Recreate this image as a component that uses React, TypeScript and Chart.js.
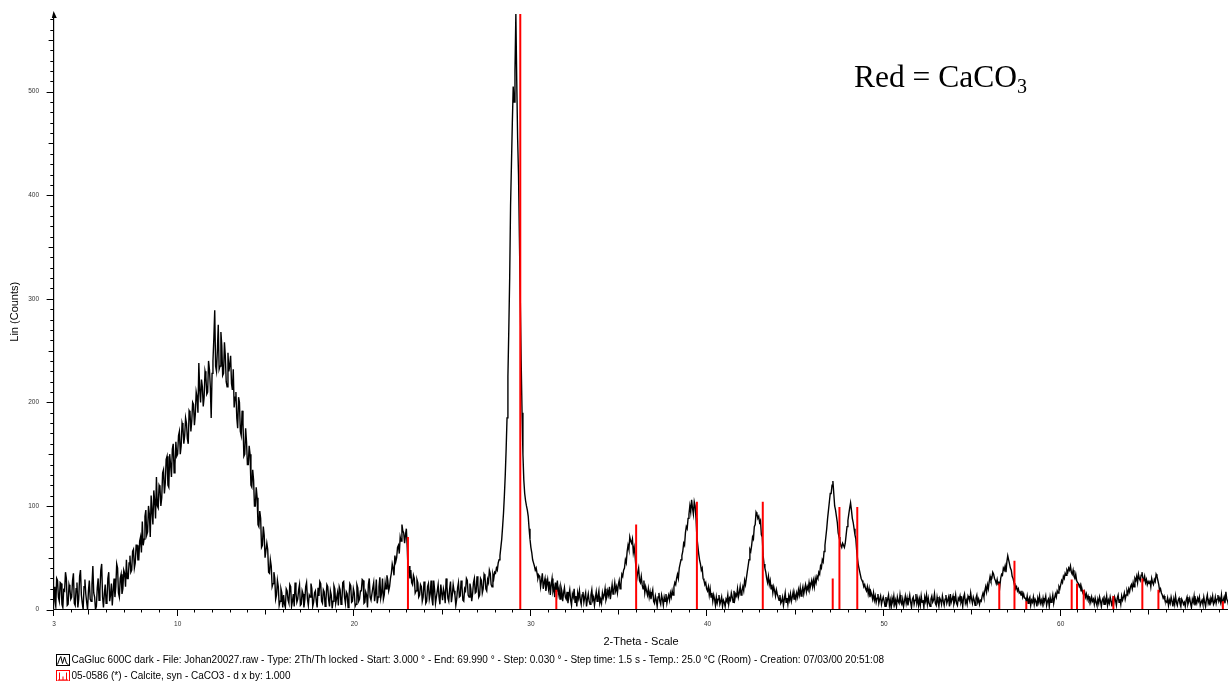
import React, { useEffect, useRef } from 'react';
import { Chart, registerables } from 'chart.js';

Chart.register(...registerables);

// ---------- Scan data (Lin counts), regular 2-theta grid per segment ----------
const STEP = 0.05;

// 3.00 .. 15.95
const countsA: number[] = [
  22, 8, 3, 30, 28, 12, 8, 26, 25, 5, 2, 19, 18, 36, 30, 4, 5, 24, 20, 10,
  12, 28, 35, 6, 4, 20, 26, 2, 10, 32, 38, 14, 6, 0, 22, 29, 15, 7, 0, 18,
  28, 10, 8, 24, 42, 16, 12, 0, 3, 21, 30, 9, 18, 38, 44, 12, 2, 15, 24, 6,
  10, 30, 36, 8, 14, 25, 4, 18, 30, 12, 22, 44, 40, 16, 12, 30, 34, 15, 20, 38,
  35, 22, 48, 30, 30, 45, 52, 36, 38, 56, 58, 40, 45, 62, 62, 48, 48, 66, 70, 55,
  85, 62, 68, 90, 96, 72, 75, 100, 92, 70, 110, 95, 82, 115, 105, 88, 128, 100, 98, 120,
  118, 100, 108, 132, 135, 112, 122, 145, 148, 120, 118, 150, 140, 128, 155, 160, 132, 140, 162, 148,
  150, 168, 172, 150, 158, 180, 176, 160, 168, 185, 180, 165, 160, 192, 190, 172, 182, 200, 198, 178,
  188, 210, 205, 190, 238, 212, 200, 222, 215, 196, 205, 230, 225, 208, 210, 240, 232, 215, 185, 228,
  240, 262, 289, 235, 230, 250, 275, 232, 235, 268, 255, 226, 228, 258, 245, 220, 215, 248, 230, 236,
  245, 218, 212, 232, 195, 205, 210, 185, 175, 205, 200, 172, 168, 192, 180, 148, 150, 175, 162, 140,
  140, 158, 150, 120, 118, 135, 125, 100, 100, 118, 108, 82, 80, 95, 88, 60, 62, 80, 72, 50,
  50, 64, 58, 36, 35, 48, 42, 22, 25, 36, 30, 10, 14, 28, 22, 4, 8, 20, 16, 2,
];

// 16.00 .. 27.95
const countsB: number[] = [
  14, 5, 2, 20, 18, 9, 6, 24, 22, 3, 8, 15, 3, 26, 16, 7, 10, 19, 24, 4,
  5, 18, 15, 2, 9, 22, 26, 10, 4, 14, 12, 25, 20, 3, 7, 16, 18, 8, 2, 21,
  13, 27, 25, 8, 6, 19, 17, 3, 10, 24, 22, 9, 3, 18, 14, 1, 8, 23, 20, 6,
  11, 16, 4, 22, 19, 5, 9, 26, 27, 12, 6, 17, 15, 2, 12, 25, 23, 7, 8, 20,
  16, 3, 5, 24, 21, 8, 10, 18, 18, 29, 28, 6, 7, 17, 14, 2, 24, 30, 12, 9,
  9, 21, 26, 8, 15, 29, 6, 12, 22, 31, 11, 16, 30, 10, 14, 26, 20, 33, 28, 18,
  22, 30, 35, 44, 40, 33, 52, 46, 50, 60, 62, 54, 70, 66, 82, 76, 74, 64, 72, 78,
  60, 35, 42, 30, 38, 26, 24, 33, 30, 16, 18, 29, 26, 12, 14, 24, 22, 8, 12, 27,
  20, 6, 8, 22, 25, 10, 15, 28, 10, 4, 28, 19, 6, 12, 18, 24, 12, 5, 24, 16,
  9, 20, 16, 6, 30, 22, 11, 8, 20, 27, 7, 14, 24, 18, 14, 4, 10, 21, 26, 12,
  13, 28, 22, 9, 8, 20, 18, 30, 28, 14, 12, 25, 20, 8, 15, 26, 30, 16, 17, 32,
  24, 12, 14, 30, 28, 16, 20, 34, 32, 20, 18, 29, 26, 38, 35, 24, 22, 34, 30, 36,
];

// 28.00 .. 30.45 (main calcite reflection)
const countsC: number[] = [
  35, 40, 38, 45, 48, 52, 60, 68, 80, 93,
  110, 130, 155, 185, 225, 270, 320, 390, 430, 470,
  505, 490, 520, 575, 510, 455, 420, 360, 300, 240,
  190, 150, 125, 112, 105, 100, 96, 90, 78, 68,
  60, 55, 48, 45, 42, 38, 40, 35, 30, 33,
];

// 30.50 .. 49.95
const countsD: number[] = [
  32, 22, 28, 35, 20, 26, 30, 18, 24, 29,
  20, 27, 14, 24, 30, 18, 22, 12, 26, 17, 28, 15, 20, 10, 22, 18, 8, 16, 21, 12,
  10, 17, 6, 14, 19, 9, 4, 15, 12, 20, 7, 13, 3, 16, 11, 18, 9, 5, 14, 17,
  7, 12, 16, 3, 10, 15, 8, 5, 14, 19, 9, 12, 4, 11, 17, 8, 13, 18, 6, 10,
  6, 16, 11, 14, 20, 9, 12, 18, 14, 22, 10, 17, 24, 15, 19, 26, 18, 22, 16, 24,
  28, 20, 24, 34, 32, 38, 40, 48, 45, 56, 62, 58, 70, 66, 64, 68, 55, 60, 52, 40,
  30, 36, 40, 28, 26, 32, 24, 20, 28, 16, 22, 18, 14, 20, 12, 17, 10, 15, 19, 8,
  6, 13, 9, 3, 12, 16, 8, 5, 14, 10, 4, 12, 8, 15, 6, 11, 14, 9, 16, 12,
  18, 14, 22, 26, 24, 30, 34, 30, 40, 44, 48, 52, 56, 64, 62, 74, 80, 78, 88, 92,
  100, 94, 106, 98, 92, 104, 100, 88, 70, 62, 54, 48, 44, 38, 40, 30, 28, 24, 26, 20,
  18, 22, 14, 20, 12, 16, 8, 14, 10, 4, 12, 6, 10, 14, 5, 8, 12, 3, 9, 7,
  3, 10, 8, 14, 5, 11, 9, 16, 12, 7, 18, 10, 15, 13, 20, 12, 16, 22, 14, 18,
  22, 18, 28, 24, 30, 36, 42, 48, 58, 56, 62, 70, 68, 80, 82, 94, 92, 88, 90, 84,
  86, 72, 70, 52, 44, 40, 36, 30, 26, 32, 24, 28, 20, 24, 16, 22, 18, 13, 19, 15,
  12, 9, 14, 6, 8, 12, 4, 10, 16, 7, 11, 5, 13, 9, 15, 8, 12, 17, 10, 14,
  10, 16, 12, 19, 14, 21, 13, 18, 22, 15, 20, 24, 17, 22, 19, 26, 20, 24, 28, 22,
  28, 22, 30, 26, 32, 30, 36, 34, 42, 40, 48, 46, 56, 62, 70, 78, 88, 96, 104, 112,
  112, 120, 124, 112, 100, 96, 90, 84, 74, 70, 66, 62, 60, 64, 62, 60, 64, 72, 80, 86,
  92, 98, 103, 96, 88, 84, 78, 72, 68, 56, 48, 42, 38, 34, 30, 28, 26, 22, 24, 20,
  18, 22, 15, 20, 12, 17, 14, 10, 16, 9, 13, 7, 11, 15, 6, 10, 13, 5, 9, 12,
];

// 50.00 .. 69.95
const countsE: number[] = [
  8, 3, 12, 6, 10, 14, 4, 9, 2, 11, 7, 13, 5, 9, 3, 12, 8, 6, 14, 7,
  5, 10, 3, 8, 13, 6, 11, 4, 9, 14, 7, 2, 10, 12, 5, 9, 15, 6, 11, 4,
  10, 4, 13, 7, 9, 2, 12, 8, 14, 5, 11, 6, 3, 10, 13, 7, 9, 15, 6, 4,
  12, 7, 3, 11, 9, 5, 13, 8, 4, 10, 14, 6, 9, 12, 3, 15, 7, 10, 13, 5,
  8, 14, 6, 4, 11, 9, 13, 7, 10, 3, 12, 15, 6, 9, 5, 13, 11, 8, 16, 10,
  6, 12, 9, 4, 11, 14, 7, 10, 5, 9, 8, 13, 16, 12, 18, 22, 17, 24, 20, 27,
  32, 28, 30, 36, 34, 30, 28, 25, 29, 24, 27, 22, 30, 34, 33, 40, 38, 42, 36, 46,
  52, 48, 44, 40, 38, 32, 30, 26, 25, 20, 22, 18, 20, 16, 17, 14, 18, 12, 15, 11,
  11, 8, 13, 6, 10, 12, 4, 9, 7, 12, 5, 10, 8, 3, 11, 7, 13, 6, 9, 5,
  11, 6, 9, 13, 4, 8, 10, 3, 12, 7, 9, 14, 6, 11, 15, 12, 18, 16, 22, 20,
  24, 28, 26, 32, 30, 35, 33, 38, 36, 40, 38, 42, 36, 34, 38, 32, 30, 34, 28, 26,
  25, 22, 24, 18, 20, 16, 14, 17, 12, 15, 10, 13, 9, 11, 7, 12, 8, 10, 5, 11,
  7, 4, 10, 6, 12, 8, 3, 9, 11, 5, 10, 7, 13, 4, 9, 6, 12, 8, 3, 10,
  6, 12, 9, 4, 11, 14, 7, 10, 5, 13, 9, 12, 16, 10, 14, 18, 15, 20, 17, 22,
  24, 20, 26, 22, 30, 28, 32, 26, 34, 30, 28, 33, 36, 30, 28, 32, 26, 29, 24, 27,
  25, 28, 22, 30, 26, 24, 29, 27, 34, 32, 28, 24, 18, 20, 16, 14, 11, 13, 9, 8,
  7, 11, 4, 9, 6, 12, 8, 3, 10, 5, 13, 7, 4, 9, 11, 6, 3, 10, 8, 5,
  7, 3, 9, 12, 5, 8, 11, 6, 2, 10, 7, 13, 4, 9, 6, 11, 8, 12, 4, 7,
  9, 5, 12, 7, 3, 10, 14, 6, 9, 4, 11, 8, 13, 5, 7, 12, 6, 10, 14, 8,
  11, 7, 14, 5, 9, 12, 6, 17, 10, 8, 4, 11, 17, 9, 13, 7, 10, 16, 6, 12,
];

const segStarts: number[] = [3.0, 16.0, 28.0, 30.5, 50.0];

// ---------- Reference pattern 05-0586 Calcite (stick positions / heights) ----------
const calciteAngles: number[] = [
  23.04, 29.40, 31.44, 35.96, 39.40, 43.13, 47.09, 47.47, 48.48,
  56.52, 57.38, 58.05, 60.62, 60.92, 61.30, 62.98, 64.62, 65.53, 69.18,
];
const calciteCounts: number[] = [
  70, 575, 19, 82, 104, 104, 30, 99, 99,
  25, 47, 8, 29, 25, 19, 13, 30, 19, 8,
];

// ---------- Axis ticks / texts ----------
const xTickLabels: number[] = [3, 10, 20, 30, 40, 50, 60];
const yTickLabels: number[] = [0, 100, 200, 300, 400, 500];
const X_MIN = 3;
const X_MAX = 69.47;
const Y_MAX = 575;

const xTitle = '2-Theta - Scale';
const yTitle = 'Lin (Counts)';
const legendScan =
  'CaGluc 600C dark - File: Johan20027.raw - Type: 2Th/Th locked - Start: 3.000 ° - End: 69.990 ° - Step: 0.030 ° - Step time: 1.5 s - Temp.: 25.0 °C (Room) - Creation: 07/03/00 20:51:08';
const legendRef = '05-0586 (*) - Calcite, syn - CaCO3 - d x by: 1.000';
const noteMain = 'Red = CaCO';
const noteSub = '3';

const SANS = 'Arial, "Liberation Sans", sans-serif';
const SERIF = '"Liberation Serif", "Times New Roman", serif';

function segment(start: number, step: number, values: number[]) {
  return values.map((y, i) => ({ x: Math.round((start + i * step) * 1000) / 1000, y }));
}

const decorPlugin = {
  id: 'xrdDecor',
  afterDraw(chart: any) {
    const { ctx, chartArea, scales } = chart;
    const xs = scales.x;
    const ys = scales.y;
    const left = chartArea.left - 0.4;
    const bottom = chartArea.bottom;
    ctx.save();
    ctx.strokeStyle = '#000';
    ctx.fillStyle = '#000';
    ctx.lineWidth = 1.2;
    // axis lines
    ctx.beginPath();
    ctx.moveTo(left, bottom);
    ctx.lineTo(left, chartArea.top - 1);
    ctx.moveTo(left, bottom);
    ctx.lineTo(chartArea.right + 2, bottom);
    ctx.stroke();
    // arrow head on y axis
    ctx.beginPath();
    ctx.moveTo(left, chartArea.top - 3);
    ctx.lineTo(left - 1.8, chartArea.top + 4);
    ctx.lineTo(left + 3.2, chartArea.top + 4);
    ctx.closePath();
    ctx.fill();
    // y ticks every 10
    ctx.lineWidth = 1;
    ctx.beginPath();
    for (let v = 0; v <= Y_MAX - 5; v += 10) {
      const py = Math.round(ys.getPixelForValue(v)) + 0.5;
      const len = v % 100 === 0 ? 7 : v % 50 === 0 ? 5 : 3.3;
      ctx.moveTo(left - len, py);
      ctx.lineTo(left, py);
    }
    // x ticks every 1
    for (let v = X_MIN; v <= Math.floor(X_MAX); v += 1) {
      const px = Math.round(xs.getPixelForValue(v)) - 0.5;
      const len = v % 10 === 0 || v === X_MIN ? 6.5 : v % 5 === 0 ? 5 : 3;
      ctx.moveTo(px, bottom);
      ctx.lineTo(px, bottom + len);
    }
    ctx.stroke();

    // legend
    ctx.lineWidth = 1;
    ctx.strokeStyle = '#000';
    ctx.strokeRect(56.5, 654.5, 13, 11);
    ctx.beginPath();
    ctx.moveTo(57.5, 664.5);
    ctx.lineTo(59.5, 659);
    ctx.lineTo(60.8, 656.5);
    ctx.lineTo(62.5, 663.5);
    ctx.lineTo(64.5, 657);
    ctx.lineTo(66.5, 663.5);
    ctx.lineTo(68.5, 664.5);
    ctx.stroke();
    ctx.strokeStyle = '#ff0000';
    ctx.strokeRect(56.5, 670.5, 13, 10.5);
    ctx.beginPath();
    ctx.moveTo(59.5, 672.5); ctx.lineTo(59.5, 680);
    ctx.moveTo(63, 676.5); ctx.lineTo(63, 680);
    ctx.moveTo(66.5, 672.5); ctx.lineTo(66.5, 680);
    ctx.moveTo(58, 680); ctx.lineTo(68, 680);
    ctx.stroke();

    ctx.fillStyle = '#000';
    ctx.font = `10px ${SANS}`;
    ctx.textBaseline = 'middle';
    ctx.textAlign = 'left';
    ctx.fillText(legendScan, 71.5, 660.5);
    ctx.fillText(legendRef, 71.5, 676.5);

    // annotation
    ctx.textBaseline = 'alphabetic';
    ctx.font = `31.5px ${SERIF}`;
    ctx.fillText(noteMain, 854, 86.5);
    const w = ctx.measureText(noteMain).width;
    ctx.font = `20px ${SERIF}`;
    ctx.fillText(noteSub, 854 + w, 92.5);
    ctx.restore();
  },
};

export default function App() {
  const ref = useRef<HTMLCanvasElement>(null);

  useEffect(() => {
    const canvas = ref.current;
    if (!canvas) return;
    const segs = [countsA, countsB, countsC, countsD, countsE];
    const scan: { x: number; y: number }[] = [];
    segs.forEach((s, i) => scan.push(...segment(segStarts[i], STEP, s)));

    const sticks: { x: number; y: number | null }[] = [];
    calciteAngles.forEach((x, i) => {
      sticks.push({ x, y: 0 }, { x, y: calciteCounts[i] }, { x, y: null });
    });

    const chart = new Chart(canvas, {
      type: 'line',
      data: {
        datasets: [
          {
            label: '05-0586 (*) - Calcite, syn - CaCO3',
            data: sticks as any,
            borderColor: '#ff0000',
            borderWidth: 2,
            pointRadius: 0,
            spanGaps: false,
            tension: 0,
          },
          {
            label: 'CaGluc 600C dark',
            data: scan,
            borderColor: '#000000',
            borderWidth: 1.4,
            pointRadius: 0,
            tension: 0,
          },
        ],
      },
      options: {
        animation: false,
        responsive: false,
        devicePixelRatio: 1,
        events: [],
        layout: { padding: { left: 0, right: 0, top: 14, bottom: 0 } },
        plugins: { legend: { display: false }, tooltip: { enabled: false } },
        scales: {
          x: {
            type: 'linear',
            min: X_MIN,
            max: X_MAX,
            grid: { display: false, drawTicks: false },
            border: { display: false },
            afterBuildTicks: (s: any) => {
              s.ticks = xTickLabels.map((v) => ({ value: v }));
            },
            afterFit: (s: any) => {
              s.height = 71.5;
              s.paddingLeft = 0;
              s.paddingRight = 0;
            },
            ticks: {
              autoSkip: false,
              maxRotation: 0,
              minRotation: 0,
              padding: 11,
              color: '#333',
              font: { family: SANS, size: 6.5 },
              callback: (v: any) => String(v),
            },
            title: {
              display: true,
              text: xTitle,
              color: '#000',
              font: { family: SANS, size: 11 },
              padding: { top: 0, bottom: 32.7 },
            },
          },
          y: {
            type: 'linear',
            min: 0,
            max: Y_MAX,
            grid: { display: false, drawTicks: false },
            border: { display: false },
            afterBuildTicks: (s: any) => {
              s.ticks = yTickLabels.map((v) => ({ value: v }));
            },
            afterFit: (s: any) => {
              s.width = 54;
              s.paddingTop = 0;
              s.paddingBottom = 0;
            },
            ticks: {
              autoSkip: false,
              padding: 15,
              color: '#333',
              font: { family: SANS, size: 6.5 },
              callback: (v: any) => String(v),
            },
            title: {
              display: true,
              text: yTitle,
              color: '#000',
              font: { family: SANS, size: 11 },
              padding: { top: 8.4, bottom: 0 },
            },
          },
        },
      },
      plugins: [decorPlugin],
    });
    return () => chart.destroy();
  }, []);

  return (
    <div style={{ position: 'absolute', left: 0, top: 0, width: 1228, height: 681, background: '#fff' }}>
      <canvas ref={ref} width={1228} height={681} style={{ display: 'block' }} />
    </div>
  );
}
